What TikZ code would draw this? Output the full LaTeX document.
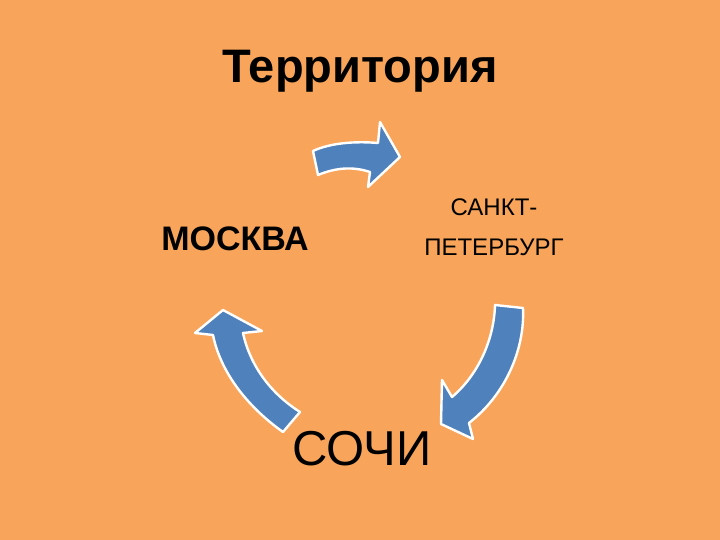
\documentclass[tikz,border=0pt]{standalone}
\usepackage{fontspec}
\setmainfont{Liberation Sans}
\usepackage{tikz}
\definecolor{slideorange}{HTML}{F8A45B}
\definecolor{arrowblue}{HTML}{4F81BD}
\tikzset{
  blockarrow/.style={fill=arrowblue,draw=white,line width=2.4pt,line join=round},
  city/.style={anchor=base,inner sep=0pt,text=black}
}

\begin{document}
\begin{tikzpicture}[x=1pt,y=-1pt]
\fill[slideorange] (0,0) rectangle (720,540);
\node[city,font=\bfseries\fontsize{47}{56}\selectfont] (title) at (360,83) {Территория};
\node[city,font=\bfseries\fontsize{34}{40}\selectfont] (moskva) at (235,250) {МОСКВА};
\node[anchor=center,inner sep=0pt,align=center,font=\fontsize{24}{40}\selectfont] (spb) at (494,227) {САНКТ-\\ПЕТЕРБУРГ};
\node[city,font=\fontsize{49}{58}\selectfont] (sochi) at (362,465) {СОЧИ};
% Moskva -> Sankt-Peterburg
\filldraw[blockarrow] (313,151) .. controls (330,143) and (355,141) .. (378,143) -- (380,122) -- (400,157)
  -- (368,187) -- (370,172) .. controls (352,166) and (335,168) .. (318,175) -- cycle;
% Sankt-Peterburg -> Sochi
\filldraw[blockarrow] (495,305) -- (523,308) .. controls (525,350) and (505,395) .. (469,423) -- (473,439)
  -- (441,424) -- (442,380) -- (452,397) .. controls (478,375) and (494,340) .. (495,305) -- cycle;
% Sochi -> Moskva
\filldraw[blockarrow] (300,412) -- (283,432) .. controls (245,405) and (220,370) .. (213,335) -- (195,333)
  -- (223,310) -- (262,331) -- (243,333) .. controls (250,365) and (270,393) .. (300,412) -- cycle;
\end{tikzpicture}
\end{document}
